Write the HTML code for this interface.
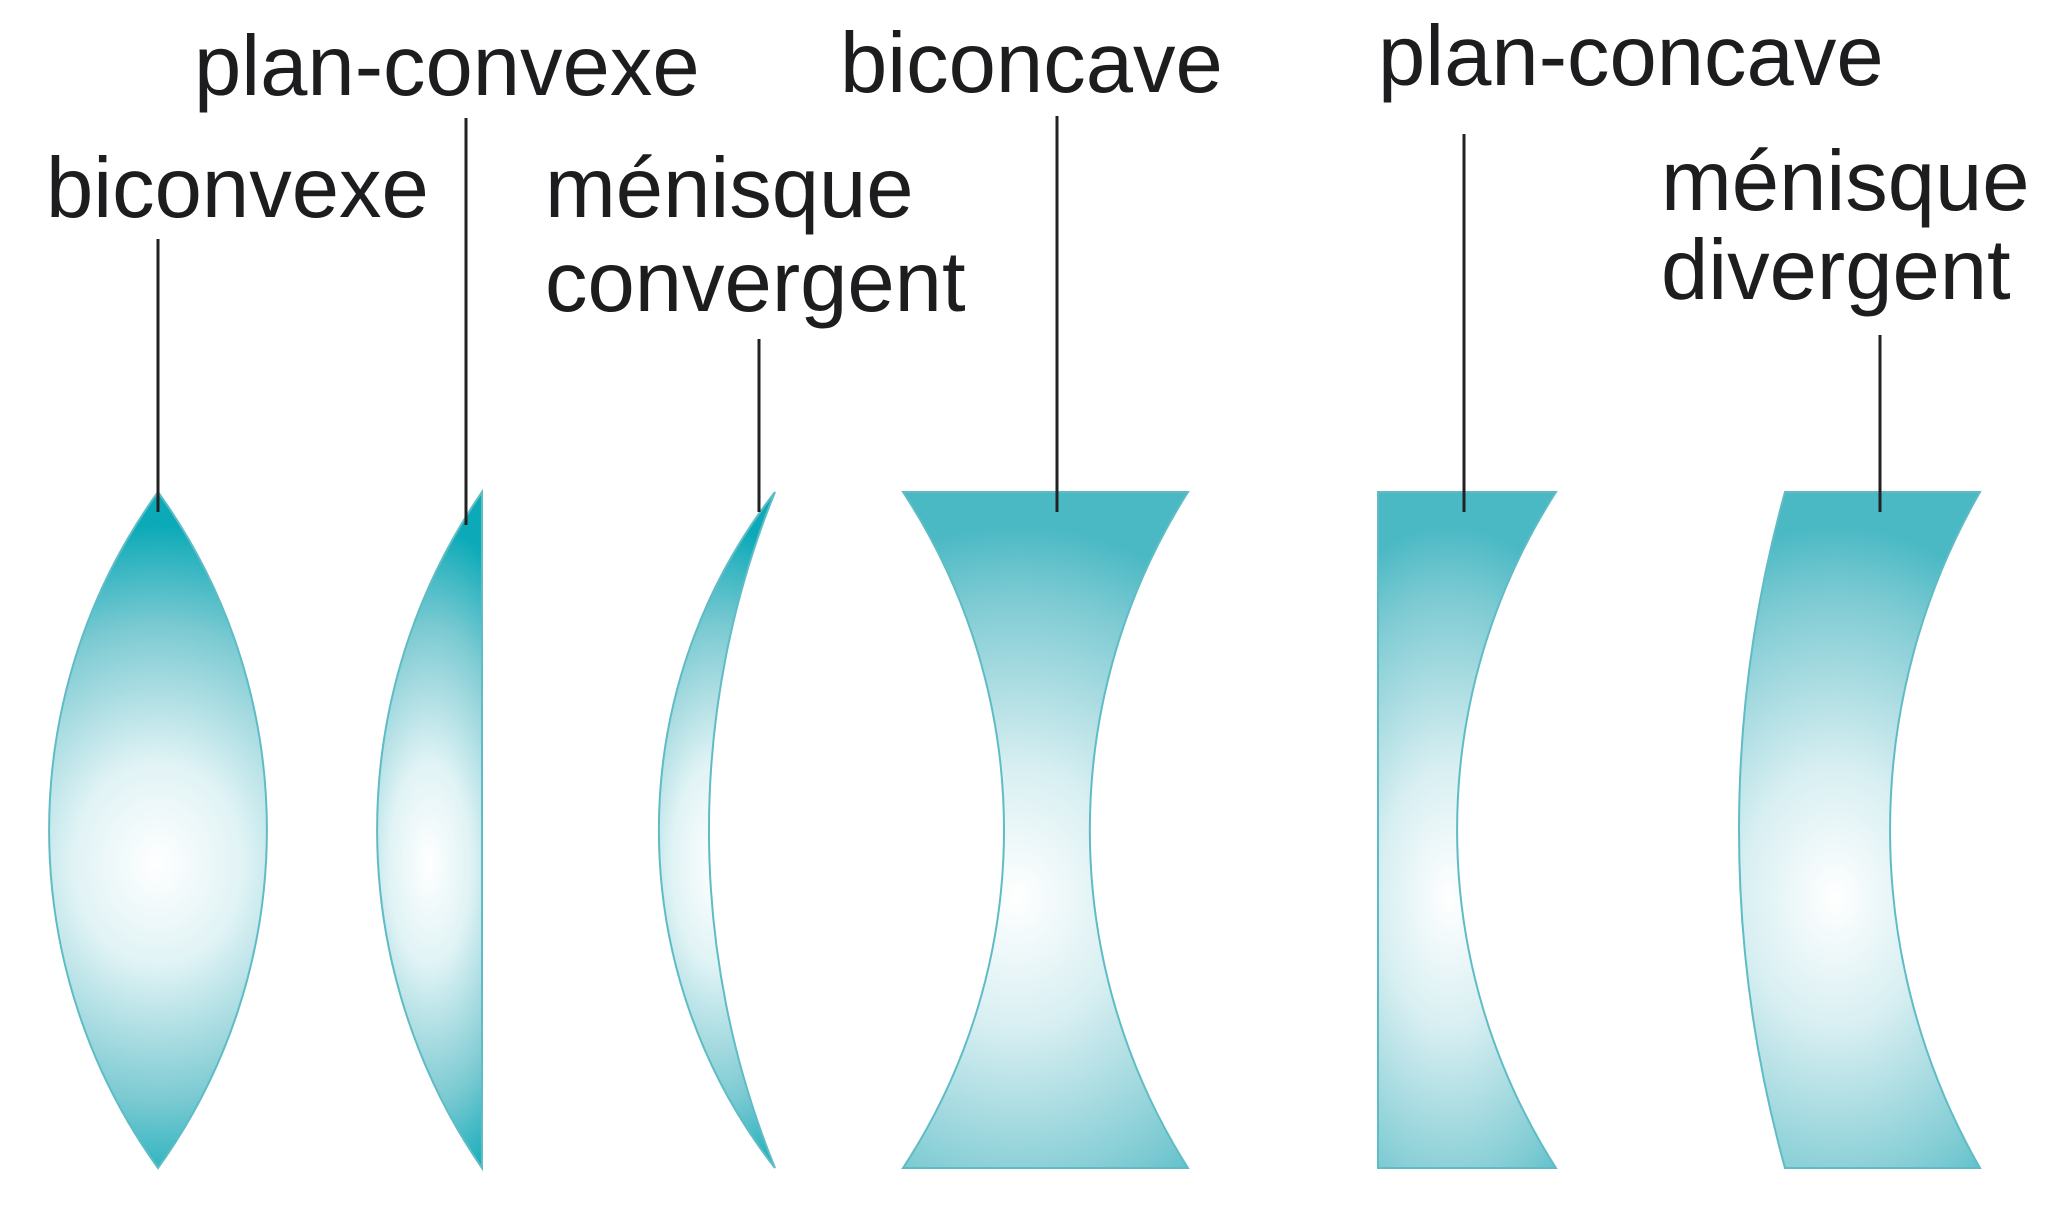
<!DOCTYPE html>
<html><head><meta charset="utf-8"><style>
html,body{margin:0;padding:0;background:#fff;}
svg{display:block;}
text{font-family:"Liberation Sans",sans-serif;font-size:85px;fill:#1d1d1f;}
</style></head><body>
<svg width="2048" height="1219" viewBox="0 0 2048 1219" xmlns="http://www.w3.org/2000/svg">
<defs>
<radialGradient id="g" cx="0.5" cy="0.55" r="0.5" gradientTransform="translate(0.5,0.55) scale(2.6,1) translate(-0.5,-0.55)">
<stop offset="0" stop-color="#ffffff"/>
<stop offset="0.3" stop-color="#e0f3f5"/>
<stop offset="0.7" stop-color="#7ccad2"/>
<stop offset="1" stop-color="#0caab8"/>
</radialGradient>
<radialGradient id="g2" cx="0.4" cy="0.6" r="0.5" gradientTransform="translate(0.4,0.6) scale(2.2,1.1) translate(-0.4,-0.6)">
<stop offset="0" stop-color="#ffffff"/>
<stop offset="0.35" stop-color="#d8eff2"/>
<stop offset="0.8" stop-color="#7fcbd3"/>
<stop offset="1" stop-color="#4ab9c4"/>
</radialGradient>
</defs>
<g stroke="#5fbcc5" stroke-width="2">
<path d="M158,492 A579,579 0 0 0 158,1168 A579,579 0 0 0 158,492 Z" fill="url(#g)"/>
<path d="M482,492 L482,1168 A597,597 0 0 1 482,492 Z" fill="url(#g)"/>
<path d="M775,492 A550,550 0 0 0 775,1168 A898,898 0 0 1 775,492 Z" fill="url(#g)"/>
<path d="M903,492 L1188,492 A631,631 0 0 0 1188,1168 L903,1168 A616,616 0 0 0 903,492 Z" fill="url(#g2)"/>
<path d="M1378,492 L1556,492 A627,627 0 0 0 1556,1168 L1378,1168 Z" fill="url(#g2)"/>
<path d="M1785,492 L1980,492 A680,680 0 0 0 1980,1168 L1785,1168 A1265,1265 0 0 1 1785,492 Z" fill="url(#g2)"/>
</g>
<g stroke="#222" stroke-width="3">
<line x1="158" y1="239" x2="158" y2="512"/>
<line x1="466" y1="118" x2="466" y2="525"/>
<line x1="759" y1="339" x2="759" y2="512"/>
<line x1="1057" y1="116" x2="1057" y2="512"/>
<line x1="1464" y1="134" x2="1464" y2="512"/>
<line x1="1880" y1="335" x2="1880" y2="512"/>
</g>
<text x="46" y="217">biconvexe</text>
<text x="194" y="95">plan-convexe</text>
<text x="545" y="217">ménisque</text>
<text x="545" y="311">convergent</text>
<text x="840" y="92">biconcave</text>
<text x="1378" y="85">plan-concave</text>
<text x="1661" y="210">ménisque</text>
<text x="1661" y="299">divergent</text>
</svg>
</body></html>
